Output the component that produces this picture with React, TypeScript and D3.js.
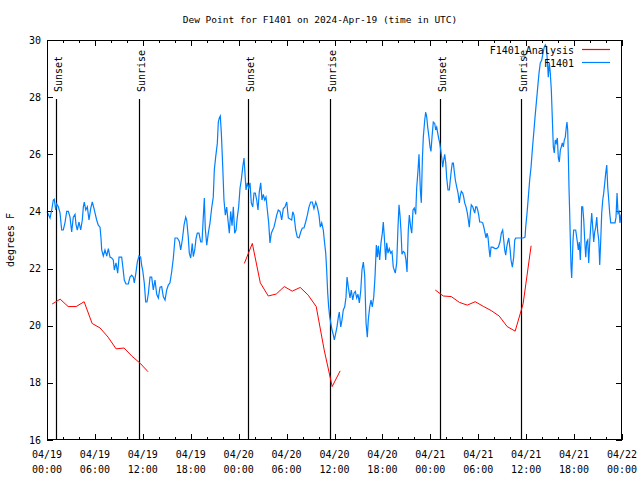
import React from 'react';
import * as d3 from 'd3';

const TITLE = 'Dew Point for F1401 on 2024-Apr-19 (time in UTC)';
const Y_LABEL = 'degrees F';
const Y_TICKS = [16, 18, 20, 22, 24, 26, 28, 30];
const X_MAJOR_HOURS = [0, 6, 12, 18, 24, 30, 36, 42, 48, 54, 60, 66, 72];
const X_TICK_DATES = ['04/19', '04/19', '04/19', '04/19', '04/20', '04/20', '04/20', '04/20', '04/21', '04/21', '04/21', '04/21', '04/22'];
const X_TICK_TIMES = ['00:00', '06:00', '12:00', '18:00', '00:00', '06:00', '12:00', '18:00', '00:00', '06:00', '12:00', '18:00', '00:00'];
const X_MINOR_STEP = 2;

const SUN_LABELS = ['Sunset', 'Sunrise', 'Sunset', 'Sunrise', 'Sunset', 'Sunrise'];
const SUN_HOURS = [1.13, 11.52, 25.21, 35.44, 49.25, 59.39];

const SERIES_NAMES = ['F1401_Analysis', 'F1401'];
const SERIES_COLORS = ['#ff0000', '#0080ff'];

// Analysis: hourly values, three runs
const ANALYSIS_START = [0.65, 24.71, 48.62];
const ANALYSIS_1 = [20.76, 20.93, 20.67, 20.67, 20.84, 20.08, 19.92, 19.6, 19.19, 19.22, 18.93, 18.69, 18.39];
const ANALYSIS_2 = [22.18, 22.88, 21.5, 21.04, 21.11, 21.37, 21.21, 21.34, 21.07, 20.67, 19.15, 17.87, 18.42];
const ANALYSIS_3 = [21.25, 21.04, 21.02, 20.82, 20.72, 20.84, 20.68, 20.53, 20.34, 19.97, 19.81, 20.77, 22.8];

// Observations: [hour since 04/19 00:00 UTC, dew point F]
const OBS_HOURS = [
  0, 0.38, 0.59, 0.79, 0.91, 1.09, 1.21, 1.42, 1.63, 1.84, 2.04, 2.25, 2.47, 2.67, 2.88, 3.09, 3.29, 3.51, 3.63, 3.79,
  4.01, 4.22, 4.42, 4.55, 4.67, 4.85, 5.05, 5.26, 5.47, 5.67, 5.89, 6.01, 6.22, 6.42, 6.64, 6.76, 6.85, 7.05, 7.26, 7.48,
  7.68, 7.89, 8.10, 8.30, 8.43, 8.64, 8.85, 9.02, 9.35, 9.52, 9.68, 9.89, 10.18, 10.39, 10.61, 10.81, 10.93, 11.11, 11.31, 11.52,
  11.73, 11.86, 11.98, 12.18, 12.36, 12.52, 12.68, 12.90, 13.11, 13.31, 13.52, 13.74, 13.94, 14.15, 14.36, 14.56, 14.78, 14.99, 15.19, 15.40,
  15.61, 15.82, 16.03, 16.32, 16.57, 16.74, 16.94, 17.16, 17.37, 17.49, 17.69, 17.82, 17.99, 18.19, 18.32, 18.50, 18.66, 18.82, 19.03, 19.25,
  19.41, 19.57, 19.70, 19.82, 20.00, 20.20, 20.41, 20.62, 20.82, 20.95, 21.12, 21.33, 21.45, 21.58, 21.70, 21.83, 22.00, 22.16, 22.33, 22.50,
  22.66, 22.83, 23.00, 23.17, 23.33, 23.50, 23.67, 23.83, 24.00, 24.17, 24.33, 24.51, 24.67, 24.79, 24.92, 25.08, 25.26, 25.42, 25.58, 25.76,
  25.92, 26.08, 26.26, 26.42, 26.58, 26.76, 26.92, 27.09, 27.26, 27.42, 27.59, 27.76, 27.92, 28.09, 28.26, 28.42, 28.59, 28.76, 28.96, 29.18,
  29.39, 29.59, 29.80, 30.02, 30.22, 30.64, 30.77, 30.93, 31.14, 31.34, 31.56, 31.77, 31.97, 32.18, 32.39, 32.60, 32.81, 33.02, 33.22, 33.43,
  33.65, 33.85, 34.06, 34.22, 34.40, 34.60, 34.72, 34.90, 35.02, 35.15, 35.27, 35.40, 35.53, 35.69, 35.85, 35.98, 36.15, 36.31, 36.48, 36.60,
  36.78, 36.94, 37.10, 37.28, 37.44, 37.57, 37.73, 37.94, 38.10, 38.28, 38.44, 38.61, 38.78, 38.94, 39.11, 39.28, 39.44, 39.61, 39.78, 39.95,
  40.11, 40.23, 40.41, 40.57, 40.73, 40.91, 41.07, 41.24, 41.36, 41.49, 41.66, 41.82, 41.99, 42.11, 42.24, 42.41, 42.54, 42.70, 42.86, 43.04,
  43.20, 43.36, 43.61, 43.79, 43.95, 44.08, 44.20, 44.33, 44.45, 44.62, 44.79, 44.95, 45.08, 45.24, 45.37, 45.54, 45.67, 45.83, 45.99, 46.17,
  46.29, 46.46, 46.58, 46.75, 46.87, 47.00, 47.12, 47.30, 47.42, 47.55, 47.67, 47.83, 47.96, 48.08, 48.21, 48.37, 48.55, 48.67, 48.80, 48.92,
  49.05, 49.17, 49.30, 49.42, 49.55, 49.67, 49.80, 49.93, 50.05, 50.21, 50.38, 50.50, 50.63, 50.75, 50.88, 51.00, 51.13, 51.30, 51.47, 51.63,
  51.75, 51.88, 52.05, 52.18, 52.30, 52.47, 52.63, 52.76, 52.88, 53.01, 53.13, 53.31, 53.43, 53.56, 53.68, 53.81, 53.93, 54.06, 54.18, 54.38,
  54.56, 54.72, 54.85, 54.97, 55.10, 55.22, 55.35, 55.47, 55.60, 55.81, 56.10, 56.31, 56.51, 56.72, 56.89, 57.06, 57.19, 57.31, 57.44, 57.56,
  57.69, 57.82, 57.98, 58.10, 58.27, 58.44, 58.57, 58.69, 59.64, 59.86, 59.94, 60.11, 60.27, 60.44, 60.61, 60.77, 60.95, 61.11, 61.27, 61.45,
  61.61, 61.77, 61.95, 62.11, 62.27, 62.40, 62.52, 62.65, 62.77, 62.90, 63.02, 63.15, 63.27, 63.40, 63.52, 63.65, 63.77, 63.90, 64.03, 64.15,
  64.28, 64.40, 64.53, 64.65, 64.78, 64.90, 65.03, 65.11, 65.20, 65.28, 65.36, 65.45, 65.53, 65.62, 65.70, 65.78, 65.87, 65.95, 66.20, 66.41,
  66.53, 66.65, 66.78, 66.87, 66.95, 67.08, 67.21, 67.33, 67.46, 67.58, 67.71, 67.83, 67.96, 68.08, 68.21, 68.33, 68.46, 68.58, 68.71, 68.84,
  68.96, 69.09, 69.21, 69.34, 69.46, 69.59, 69.71, 69.84, 69.96, 70.09, 70.21, 70.34, 70.46, 70.59, 71.13, 71.25, 71.38, 71.50, 71.63, 71.75,
  71.88,
];
const OBS_VALUES = [
  24.0, 23.77, 24.05, 24.4, 24.43, 24.05, 24.26, 24.16, 23.95, 23.35, 23.35, 23.6, 24.0, 24.0, 23.8, 23.28, 23.8, 23.9, 23.55, 23.35,
  23.63, 23.35, 23.7, 24.16, 24.33, 24.05, 24.16, 23.7, 24.1, 24.33, 24.1, 23.95, 23.7, 23.52, 23.45, 23.07, 22.65, 22.44, 22.65, 22.44,
  22.7, 22.4, 22.37, 22.3, 21.95, 22.2, 21.84, 22.4, 22.4, 22.0, 21.6, 21.46, 21.46, 21.7, 21.77, 21.7, 21.5, 21.8, 22.23, 22.44,
  22.4, 22.1, 21.95, 21.5, 20.83, 20.83, 21.1, 21.7, 21.7, 21.25, 21.6, 21.1, 20.97, 21.35, 21.37, 21.02, 20.9, 21.25, 21.42, 21.5,
  21.88, 22.37, 23.07, 23.07, 22.95, 22.65, 23.0, 23.52, 23.8, 23.7, 23.1, 22.54, 22.37, 22.88, 22.42, 22.65, 23.05, 23.24, 23.24, 22.93,
  22.93, 23.8, 24.47, 23.4, 22.82, 23.24, 23.6, 24.12, 24.5, 25.45, 25.9, 26.39, 27.13, 27.27, 27.34, 26.75, 25.6, 24.4, 23.87, 24.15,
  23.7, 23.24, 24.0, 23.5, 24.16, 23.24, 23.35, 23.8, 24.16, 24.82, 25.1, 25.55, 25.87, 25.34, 24.75, 25.0, 24.82, 25.0, 24.3, 24.16,
  24.64, 24.64, 24.4, 24.05, 24.68, 25.0, 24.4, 24.6, 24.4, 24.5, 24.05, 23.6, 22.9, 23.24, 23.35, 23.45, 23.65, 23.87, 24.05, 24.0,
  23.7, 24.1, 24.16, 24.33, 23.77, 23.7, 23.99, 23.87, 23.35, 23.1, 23.07, 23.28, 23.42, 23.42, 23.63, 23.87, 24.16, 24.33, 24.33, 24.1,
  24.33, 24.16, 23.87, 23.45, 23.6, 23.35, 23.0, 22.54, 21.95, 21.14, 20.66, 20.31, 20.1, 19.85, 19.68, 19.5, 19.73, 19.96, 20.3, 20.48,
  19.96, 20.2, 20.55, 20.66, 21.0, 21.7, 21.35, 20.97, 21.25, 20.9, 21.14, 21.2, 20.97, 21.1, 20.8, 21.2, 21.95, 22.23, 21.77, 20.1,
  19.6, 20.2, 20.66, 20.9, 20.66, 21.0, 21.7, 22.82, 22.4, 22.8, 22.3, 22.9, 23.24, 23.63, 23.1, 22.3, 22.9, 22.54, 22.7, 22.54,
  22.6, 22.05, 21.84, 22.2, 23.45, 24.23, 23.87, 23.3, 22.5, 22.6, 22.55, 22.3, 21.88, 23.35, 23.87, 23.45, 23.24, 24.05, 24.12, 23.9,
  24.82, 25.45, 26.0, 24.75, 24.3, 25.8, 26.6, 27.2, 27.48, 27.3, 26.95, 26.6, 26.26, 26.1, 26.6, 27.13, 27.08, 26.85, 26.95, 26.75,
  26.55, 26.4, 26.15, 25.9, 25.55, 25.8, 26.0, 25.7, 25.17, 24.75, 24.75, 25.1, 25.45, 25.69, 25.69, 25.4, 25.1, 24.86, 24.64, 24.3,
  24.55, 24.7, 24.64, 24.5, 24.3, 24.16, 23.95, 23.7, 23.45, 23.94, 24.23, 24.16, 24.05, 23.94, 24.16, 24.16, 24.05, 23.87, 23.63, 23.63,
  23.6, 23.42, 23.24, 23.07, 23.24, 23.1, 22.7, 22.4, 22.75, 22.75, 22.7, 22.7, 22.75, 22.93, 23.24, 23.35, 23.0, 22.65, 22.47, 22.75,
  22.93, 23.07, 22.7, 22.3, 22.05, 22.4, 23.0, 23.07, 23.07, 23.1, 23.45, 23.94, 24.5, 25.1, 25.55, 26.15, 26.75, 27.3, 27.8, 28.36,
  28.85, 29.2, 29.3, 29.55, 29.76, 29.83, 29.76, 29.3, 28.7, 29.2, 28.85, 28.25, 27.3, 26.26, 26.05, 26.5, 26.4, 26.57, 25.87, 25.73,
  26.15, 26.26, 26.4, 26.26, 26.5, 26.6, 26.96, 27.13, 26.85, 25.95, 24.86, 23.94, 23.0, 22.05, 21.67, 22.3, 23.0, 23.35, 23.35, 22.93,
  22.65, 22.93, 22.3, 22.93, 24.16, 24.16, 23.7, 23.0, 22.4, 22.93, 23.0, 22.2, 22.93, 23.45, 23.94, 23.45, 22.93, 23.28, 23.45, 23.8,
  23.28, 23.0, 22.13, 23.0, 23.94, 24.4, 24.64, 25.0, 25.34, 25.62, 24.86, 24.4, 23.94, 23.6, 23.6, 23.8, 24.64, 23.94, 24.0, 23.6,
  23.9,
];

const W = 640;
const H = 480;
const M = { left: 47, right: 18, top: 40, bottom: 40 };
const FONT = '"DejaVu Sans Mono", "Liberation Mono", monospace';

export default function App() {
  const x = d3.scaleLinear().domain([0, 72]).range([M.left, W - M.right]);
  const y = d3.scaleLinear().domain([16, 30]).range([H - M.bottom, M.top]);
  const x0 = M.left, x1 = W - M.right, y0 = M.top, y1 = H - M.bottom;

  const line = d3.line<[number, number]>().x(d => x(d[0])).y(d => y(d[1]));
  const obs: [number, number][] = OBS_HOURS.map((h, i) => [h, OBS_VALUES[i]]);
  const analysisRuns = [ANALYSIS_1, ANALYSIS_2, ANALYSIS_3].map((vals, r) =>
    vals.map((v, k) => [ANALYSIS_START[r] + k, v] as [number, number])
  );

  const minorHours = d3.range(0, 72 + 0.001, X_MINOR_STEP).filter(h => h % 6 !== 0);
  const sunTop = y0 + 59;

  return (
    <svg width={W} height={H} style={{ position: 'absolute', left: 0, top: 0, background: '#fff' }} fontFamily={FONT}>
      <rect x={0} y={0} width={W} height={H} fill="#fff" />
      <text x={320} y={23} fontSize={9.5} textAnchor="middle" fill="#000">{TITLE}</text>
      <text transform={`translate(14,${(y0 + y1) / 2}) rotate(-90)`} fontSize={10} textAnchor="middle" fill="#000">{Y_LABEL}</text>

      {/* y ticks */}
      {Y_TICKS.map(t => (
        <g key={'y' + t}>
          <line x1={x0} x2={x0 + 6} y1={Math.round(y(t)) + 0.5} y2={Math.round(y(t)) + 0.5} stroke="#000" />
          <line x1={x1} x2={x1 - 6} y1={Math.round(y(t)) + 0.5} y2={Math.round(y(t)) + 0.5} stroke="#000" />
          <text x={41} y={y(t) + 3.5} fontSize={10} textAnchor="end" fill="#000">{t}</text>
        </g>
      ))}

      {/* x ticks */}
      {X_MAJOR_HOURS.map((h, i) => (
        <g key={'x' + h}>
          <line x1={Math.round(x(h)) + 0.5} x2={Math.round(x(h)) + 0.5} y1={y1} y2={y1 - 6} stroke="#000" />
          <line x1={Math.round(x(h)) + 0.5} x2={Math.round(x(h)) + 0.5} y1={y0} y2={y0 + 6} stroke="#000" />
          <text x={x(h)} y={458} fontSize={10} textAnchor="middle" fill="#000">{X_TICK_DATES[i]}</text>
          <text x={x(h)} y={473} fontSize={10} textAnchor="middle" fill="#000">{X_TICK_TIMES[i]}</text>
        </g>
      ))}
      {minorHours.map(h => (
        <g key={'m' + h}>
          <line x1={Math.round(x(h)) + 0.5} x2={Math.round(x(h)) + 0.5} y1={y1} y2={y1 - 3} stroke="#000" />
          <line x1={Math.round(x(h)) + 0.5} x2={Math.round(x(h)) + 0.5} y1={y0} y2={y0 + 3} stroke="#000" />
        </g>
      ))}

      {/* sunrise / sunset */}
      {SUN_HOURS.map((h, i) => (
        <g key={'s' + i}>
          <line x1={Math.round(x(h)) + 0.5} x2={Math.round(x(h)) + 0.5} y1={sunTop} y2={y1} stroke="#000" strokeWidth={1.2} />
          <text transform={`translate(${x(h) + 5.5},${sunTop - 7}) rotate(-90)`} fontSize={10} textAnchor="start" fill="#000">{SUN_LABELS[i]}</text>
        </g>
      ))}

      {/* data */}
      {analysisRuns.map((run, i) => (
        <path key={'a' + i} d={line(run) || ''} fill="none" stroke={SERIES_COLORS[0]} strokeWidth={1} />
      ))}
      <path d={line(obs) || ''} fill="none" stroke={SERIES_COLORS[1]} strokeWidth={1.2} />

      {/* legend */}
      {SERIES_NAMES.map((name, i) => (
        <g key={'l' + i}>
          <text x={574} y={53.5 + i * 13} fontSize={10} textAnchor="end" fill="#000">{name}</text>
          <line x1={582} x2={610} y1={49.5 + i * 13} y2={49.5 + i * 13} stroke={SERIES_COLORS[i]} strokeWidth={1.2} />
        </g>
      ))}

      {/* frame */}
      <rect x={x0 + 0.5} y={y0 + 0.5} width={x1 - x0 - 1} height={y1 - y0 - 1} fill="none" stroke="#000" />
    </svg>
  );
}
